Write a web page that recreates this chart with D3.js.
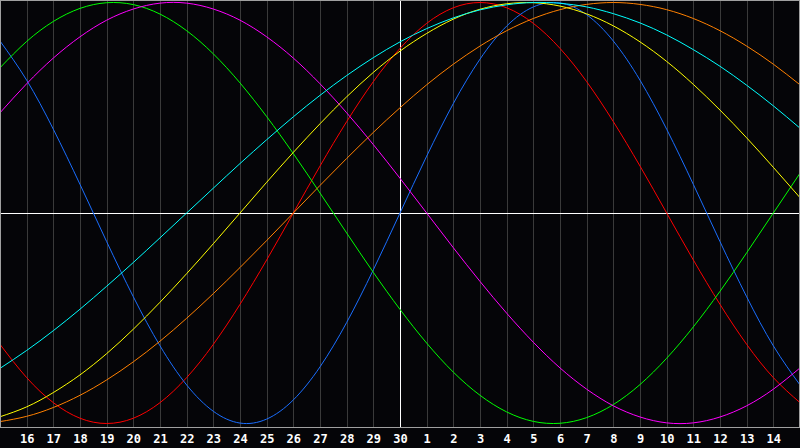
<!DOCTYPE html>
<html>
<head>
<meta charset="utf-8">
<script src="https://cdn.jsdelivr.net/npm/d3@7"></script>
<style>
  html, body { margin: 0; padding: 0; background: #050508; overflow: hidden; }
</style>
</head>
<body>
<script>
// day offsets from today (today = the 30th, middle white line)
var offsets = d3.range(-15, 16);

// tick labels under the inner grid lines (offset -14 .. 14)
var dayLabels = ["16","17","18","19","20","21","22","23","24","25","26","27","28","29","30",
                 "1","2","3","4","5","6","7","8","9","10","11","12","13","14"];

// values read per day, -15 .. +15
var physical = [0.817,0.631,0.398,0.136,-0.136,-0.398,-0.631,-0.817,-0.942,-0.998,-0.979,-0.888,-0.731,-0.520,-0.270,
                0,0.270,0.520,0.731,0.888,0.979,0.998,0.942,0.817,0.631,0.398,0.136,-0.136,-0.398,-0.631,-0.817];
var emotional = [-0.624,-0.782,-0.901,-0.975,-1.0,-0.975,-0.901,-0.782,-0.624,-0.434,-0.223,0,0.223,0.434,0.624,
                 0.782,0.901,0.975,1.0,0.975,0.901,0.782,0.624,0.434,0.223,0,-0.223,-0.434,-0.624,-0.782,-0.901];
var intellectual = [0.690,0.815,0.910,0.972,0.999,0.990,0.945,0.866,0.756,0.618,0.458,0.282,0.095,-0.095,-0.282,
                    -0.458,-0.618,-0.756,-0.866,-0.945,-0.990,-0.999,-0.972,-0.910,-0.815,-0.690,-0.541,-0.372,-0.189,0,0.189];
var intuitive = [0.476,0.614,0.736,0.837,0.916,0.969,0.997,0.997,0.969,0.916,0.837,0.736,0.614,0.476,0.325,
                 0.165,0,-0.165,-0.325,-0.476,-0.614,-0.736,-0.837,-0.916,-0.969,-0.997,-0.997,-0.969,-0.916,-0.837,-0.736];
var spiritual = [-0.738,-0.653,-0.559,-0.457,-0.348,-0.235,-0.118,0,0.118,0.235,0.348,0.457,0.559,0.653,0.738,
                 0.813,0.876,0.927,0.965,0.989,1.0,0.996,0.979,0.947,0.903,0.846,0.776,0.697,0.607,0.509,0.403];
var aesthetic = [-0.968,-0.921,-0.853,-0.769,-0.668,-0.552,-0.424,-0.288,-0.146,0,0.146,0.288,0.424,0.552,0.668,
                 0.769,0.853,0.921,0.968,0.994,0.999,0.983,0.946,0.889,0.813,0.720,0.611,0.489,0.357,0.217,0.073];
var awareness = [-0.991,-0.966,-0.924,-0.866,-0.793,-0.707,-0.609,-0.5,-0.383,-0.259,-0.131,0,0.131,0.259,0.383,
                 0.5,0.609,0.707,0.793,0.866,0.924,0.966,0.991,1.0,0.991,0.966,0.924,0.866,0.793,0.707,0.609];

var series = [
    {name: "emotional",    values: emotional,    color: "#ff0000"},
    {name: "physical",     values: physical,     color: "#1a6eff"},
    {name: "intellectual", values: intellectual, color: "#00ff00"},
    {name: "intuitive",    values: intuitive,    color: "#ff00ff"},
    {name: "awareness",    values: awareness,    color: "#ff8000"},
    {name: "aesthetic",    values: aesthetic,    color: "#ffff00"},
    {name: "spiritual",    values: spiritual,    color: "#00ffff"}
];

var WIDTH = 800, HEIGHT = 448, PLOT_H = 427;

var svg = d3.select("body")
        .append("svg")
        .attr("width", WIDTH)
        .attr("height", HEIGHT)
        .style("display", "block")
        .style("background-color", "#050508");

var x = d3.scaleLinear().domain([-15, 15]).range([0, 800]);
var y = d3.scaleLinear().domain([-1, 1]).range([423.5, 2.5]);

// day grid
svg.append("g")
        .selectAll("line")
        .data(d3.range(-14, 15))
        .enter()
        .append("line")
        .attr("x1", function(d){ return Math.round(x(d)) + 0.5; })
        .attr("x2", function(d){ return Math.round(x(d)) + 0.5; })
        .attr("y1", 0)
        .attr("y2", PLOT_H)
        .attr("stroke", function(d){ return d === 0 ? "#ffffff" : "#3a3a3a"; })
        .attr("stroke-width", 1);

// zero line
svg.append("line")
        .attr("x1", 0)
        .attr("x2", WIDTH)
        .attr("y1", Math.round(y(0)) + 0.5)
        .attr("y2", Math.round(y(0)) + 0.5)
        .attr("stroke", "#ffffff")
        .attr("stroke-width", 1);

// the curves
var line = d3.line()
        .x(function(d, i){ return x(offsets[i]); })
        .y(function(d){ return y(d); })
        .curve(d3.curveNatural);

svg.append("g")
        .selectAll("path")
        .data(series)
        .enter()
        .append("path")
        .attr("d", function(d){ return line(d.values); })
        .attr("fill", "none")
        .attr("stroke", function(d){ return d.color; })
        .attr("stroke-width", 1);

// frame
svg.append("rect")
        .attr("x", 0.5)
        .attr("y", 0.5)
        .attr("width", WIDTH - 1)
        .attr("height", PLOT_H)
        .attr("fill", "none")
        .attr("stroke", "#a0a0a0")
        .attr("stroke-width", 1);

// day labels
var axis = d3.axisBottom(x)
        .tickValues(d3.range(-14, 15))
        .tickFormat(function(d){ return dayLabels[d + 14]; })
        .tickSize(0)
        .tickPadding(0);

var gAxis = svg.append("g")
        .attr("transform", "translate(0," + 434 + ")")
        .call(axis);
gAxis.select(".domain").remove();
gAxis.selectAll("text")
        .attr("dy", "0.71em")
        .attr("fill", "#ffffff")
        .attr("font-family", "'DejaVu Sans Mono', monospace")
        .attr("font-weight", "bold")
        .attr("font-size", "12px");
</script>
</body>
</html>
